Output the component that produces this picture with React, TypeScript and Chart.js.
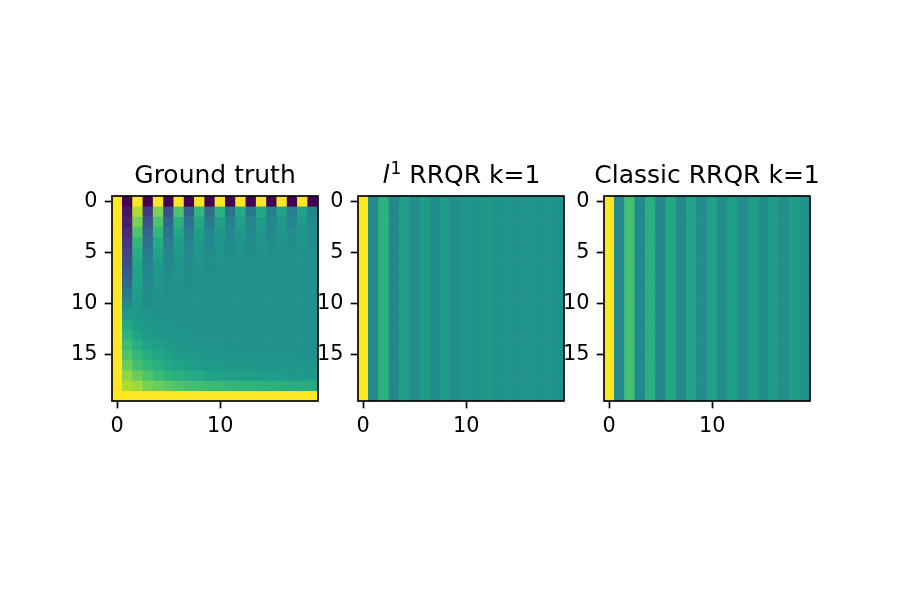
import React, { useEffect, useRef } from "react";
import { Chart, registerables } from "chart.js";

Chart.register(...registerables);

// ---------- data ----------
const xTickValues = [0, 10];
const yTickValues = [0, 5, 10, 15];

const groundTruth: number[][] = [
  [1, 0, 1, 0, 1, 0, 1, 0, 1, 0, 1, 0, 1, 0, 1, 0, 1, 0, 1, 0],
  [1, 0.05, 0.88, 0.17, 0.8, 0.24, 0.72, 0.3, 0.66, 0.35, 0.63, 0.38, 0.61, 0.4, 0.6, 0.42, 0.58, 0.43, 0.57, 0.44],
  [1, 0.08, 0.8, 0.25, 0.72, 0.32, 0.64, 0.37, 0.6, 0.41, 0.57, 0.44, 0.56, 0.45, 0.55, 0.46, 0.54, 0.46, 0.54, 0.47],
  [1, 0.12, 0.72, 0.32, 0.66, 0.38, 0.6, 0.42, 0.56, 0.45, 0.54, 0.46, 0.53, 0.47, 0.53, 0.47, 0.52, 0.48, 0.52, 0.48],
  [1, 0.16, 0.66, 0.37, 0.61, 0.42, 0.56, 0.45, 0.53, 0.47, 0.52, 0.48, 0.52, 0.48, 0.51, 0.49, 0.51, 0.49, 0.51, 0.49],
  [1, 0.2, 0.62, 0.41, 0.58, 0.45, 0.54, 0.47, 0.52, 0.48, 0.51, 0.49, 0.51, 0.49, 0.5, 0.49, 0.5, 0.5, 0.5, 0.5],
  [1, 0.24, 0.6, 0.44, 0.55, 0.47, 0.52, 0.48, 0.51, 0.49, 0.5, 0.49, 0.5, 0.5, 0.5, 0.5, 0.5, 0.5, 0.5, 0.5],
  [1, 0.29, 0.58, 0.46, 0.53, 0.48, 0.51, 0.49, 0.5, 0.49, 0.5, 0.5, 0.5, 0.5, 0.5, 0.5, 0.5, 0.5, 0.5, 0.5],
  [1, 0.34, 0.57, 0.47, 0.52, 0.49, 0.5, 0.49, 0.5, 0.5, 0.5, 0.5, 0.5, 0.5, 0.5, 0.5, 0.5, 0.5, 0.5, 0.5],
  [1, 0.4, 0.55, 0.48, 0.51, 0.49, 0.5, 0.5, 0.5, 0.5, 0.5, 0.5, 0.5, 0.5, 0.5, 0.5, 0.5, 0.5, 0.5, 0.5],
  [1, 0.47, 0.53, 0.49, 0.5, 0.5, 0.5, 0.5, 0.5, 0.5, 0.5, 0.5, 0.5, 0.5, 0.5, 0.5, 0.5, 0.5, 0.5, 0.5],
  [1, 0.54, 0.53, 0.51, 0.5, 0.5, 0.5, 0.5, 0.5, 0.5, 0.5, 0.5, 0.5, 0.5, 0.5, 0.5, 0.5, 0.5, 0.5, 0.5],
  [1, 0.6, 0.55, 0.53, 0.52, 0.51, 0.5, 0.5, 0.5, 0.5, 0.5, 0.5, 0.5, 0.5, 0.5, 0.5, 0.5, 0.5, 0.5, 0.5],
  [1, 0.64, 0.58, 0.55, 0.53, 0.52, 0.51, 0.51, 0.5, 0.5, 0.5, 0.5, 0.5, 0.5, 0.5, 0.5, 0.5, 0.5, 0.5, 0.5],
  [1, 0.68, 0.62, 0.58, 0.56, 0.54, 0.53, 0.52, 0.51, 0.51, 0.51, 0.5, 0.5, 0.5, 0.5, 0.5, 0.5, 0.5, 0.5, 0.5],
  [1, 0.72, 0.66, 0.62, 0.59, 0.57, 0.55, 0.54, 0.53, 0.52, 0.52, 0.52, 0.51, 0.51, 0.51, 0.51, 0.51, 0.51, 0.5, 0.5],
  [1, 0.77, 0.7, 0.66, 0.63, 0.6, 0.58, 0.56, 0.55, 0.54, 0.54, 0.53, 0.53, 0.53, 0.52, 0.52, 0.52, 0.52, 0.52, 0.51],
  [1, 0.83, 0.77, 0.72, 0.68, 0.65, 0.63, 0.61, 0.6, 0.58, 0.57, 0.57, 0.56, 0.56, 0.55, 0.55, 0.55, 0.54, 0.54, 0.54],
  [1, 0.88, 0.85, 0.8, 0.77, 0.74, 0.72, 0.7, 0.69, 0.68, 0.67, 0.66, 0.65, 0.65, 0.64, 0.63, 0.63, 0.62, 0.62, 0.61],
  [1, 1, 1, 1, 1, 1, 1, 1, 1, 1, 1, 1, 1, 1, 1, 1, 1, 1, 1, 1],
];

// each column of the k=1 reconstructions is constant down the rows
const l1Columns = [1, 0.47, 0.64, 0.47, 0.57, 0.48, 0.55, 0.49, 0.54, 0.49, 0.53, 0.5, 0.53, 0.5, 0.52, 0.5, 0.52, 0.5, 0.51, 0.5];
const classicColumns = [1, 0.47, 0.7, 0.47, 0.63, 0.46, 0.6, 0.47, 0.58, 0.48, 0.57, 0.48, 0.56, 0.48, 0.56, 0.49, 0.55, 0.49, 0.55, 0.5];
const rowCount = 20;

const titleGroundTruth = [{ text: "Ground truth", kind: "normal" }];
const titleL1 = [
  { text: "l", kind: "italic" },
  { text: "1", kind: "sup" },
  { text: " RRQR k=1", kind: "normal" },
];
const titleClassic = [{ text: "Classic RRQR k=1", kind: "normal" }];

// ---------- colour map (viridis) ----------
const VIRIDIS = [
  "#440154", "#471365", "#482475", "#463480", "#414487", "#3b528b", "#355f8d",
  "#2f6c8e", "#2a788e", "#25848e", "#21918c", "#1e9c89", "#22a884", "#2fb47c",
  "#44bf70", "#5ec962", "#7ad151", "#9bd93c", "#bddf26", "#dfe318", "#fde725",
];
const hexToRgb = (h: string) => [1, 3, 5].map((i) => parseInt(h.slice(i, i + 2), 16));
const VIRIDIS_RGB = VIRIDIS.map(hexToRgb);
function viridis(v: number): string {
  const t = Math.max(0, Math.min(1, v)) * (VIRIDIS_RGB.length - 1);
  const i = Math.min(Math.floor(t), VIRIDIS_RGB.length - 2);
  const f = t - i;
  const a = VIRIDIS_RGB[i];
  const b = VIRIDIS_RGB[i + 1];
  const c = a.map((x, k) => Math.round(x + (b[k] - x) * f));
  return `rgb(${c[0]},${c[1]},${c[2]})`;
}

const columnsToMatrix = (cols: number[]) =>
  Array.from({ length: rowCount }, () => cols.slice());

// ---------- layout ----------
const BOX_TOP = 196;
const BOX_BOTTOM = 401;
const BOX_W = 206;
const Y_AXIS_W = 80;
const X_AXIS_H = 50;
const CANVAS_TOP = 140;
const RIGHT_PAD = 10;
const FONT = '"DejaVu Sans", "Liberation Sans", sans-serif';

const framePlugin = {
  id: "frame",
  afterDatasetsDraw(chart: any) {
    const { ctx, chartArea } = chart;
    ctx.save();
    ctx.strokeStyle = "#000";
    ctx.lineWidth = 1.67;
    ctx.strokeRect(chartArea.left, chartArea.top, chartArea.right - chartArea.left, chartArea.bottom - chartArea.top);
    ctx.restore();
  },
};

const segTitlePlugin = {
  id: "segTitle",
  afterDraw(chart: any, _args: any, opts: any) {
    const segs = opts.segments || [];
    const { ctx, chartArea } = chart;
    const fontFor = (kind: string) =>
      kind === "italic" ? `italic 25px ${FONT}` : kind === "sup" ? `17px ${FONT}` : `25px ${FONT}`;
    ctx.save();
    ctx.fillStyle = "#000";
    ctx.textBaseline = "alphabetic";
    ctx.textAlign = "left";
    const widths = segs.map((s: any) => {
      ctx.font = fontFor(s.kind);
      return ctx.measureText(s.text).width;
    });
    const total = widths.reduce((a: number, b: number) => a + b, 0);
    let x = (chartArea.left + chartArea.right) / 2 - total / 2;
    const baseline = chartArea.top - 13;
    segs.forEach((s: any, i: number) => {
      ctx.font = fontFor(s.kind);
      ctx.fillText(s.text, x, s.kind === "sup" ? baseline - 9 : baseline);
      x += widths[i] + (s.kind === "italic" ? 1 : 0);
    });
    ctx.restore();
  },
};

function buildDatasets(matrix: number[][]) {
  return matrix.map((row, r) => ({
    label: `row ${r}`,
    data: row.map((_, c) => ({ x: c, y: [r - 0.5, r + 0.5] })),
    backgroundColor: row.map((v) => viridis(v)),
    borderWidth: 0,
    barPercentage: 1,
    categoryPercentage: 1,
    grouped: false,
  }));
}

function Panel({ left, matrix, segments }: { left: number; matrix: number[][]; segments: any[] }) {
  const ref = useRef<HTMLCanvasElement | null>(null);
  const width = Y_AXIS_W + BOX_W + RIGHT_PAD;
  const height = BOX_BOTTOM - CANVAS_TOP + X_AXIS_H;
  useEffect(() => {
    if (!ref.current) return;
    const tickFont = { family: FONT, size: 20.8 };
    const chart = new Chart(ref.current, {
      type: "bar",
      data: { datasets: buildDatasets(matrix) as any },
      plugins: [framePlugin, segTitlePlugin],
      options: {
        animation: false,
        responsive: false,
        maintainAspectRatio: false,
        events: [],
        layout: { padding: { top: BOX_TOP - CANVAS_TOP, right: RIGHT_PAD, left: 0, bottom: 0 } },
        plugins: {
          legend: { display: false },
          tooltip: { enabled: false },
          title: { display: false },
          segTitle: { segments },
        } as any,
        scales: {
          x: {
            type: "linear",
            min: -0.5,
            max: 19.5,
            offset: false,
            afterBuildTicks: (scale: any) => {
              scale.ticks = xTickValues.map((v) => ({ value: v }));
            },
            afterFit: (scale: any) => {
              scale.height = X_AXIS_H;
            },
            ticks: { color: "#000", font: tickFont, padding: 5.5, maxRotation: 0, autoSkip: false },
            grid: { drawOnChartArea: false, drawTicks: true, tickLength: 7.3, tickColor: "#000", tickWidth: 1.67, offset: false },
            border: { display: false },
          },
          y: {
            type: "linear",
            reverse: true,
            min: -0.5,
            max: 19.5,
            afterBuildTicks: (scale: any) => {
              scale.ticks = yTickValues.map((v) => ({ value: v }));
            },
            afterFit: (scale: any) => {
              scale.width = Y_AXIS_W;
            },
            ticks: { color: "#000", font: tickFont, padding: 7.3, autoSkip: false },
            grid: { drawOnChartArea: false, drawTicks: true, tickLength: 7.3, tickColor: "#000", tickWidth: 1.67 },
            border: { display: false },
          },
        },
      } as any,
    });
    return () => chart.destroy();
  }, [matrix, segments]);
  return (
    <canvas
      ref={ref}
      width={width}
      height={height}
      style={{ position: "absolute", left: left - Y_AXIS_W, top: CANVAS_TOP, width, height }}
    />
  );
}

const panels = [
  { left: 112, matrix: groundTruth, segments: titleGroundTruth },
  { left: 358, matrix: columnsToMatrix(l1Columns), segments: titleL1 },
  { left: 604, matrix: columnsToMatrix(classicColumns), segments: titleClassic },
];

export default function App() {
  return (
    <div style={{ position: "fixed", left: 0, top: 0, width: 900, height: 600, background: "#fff", overflow: "hidden" }}>
      {panels.map((p, i) => (
        <Panel key={i} left={p.left} matrix={p.matrix} segments={p.segments} />
      ))}
    </div>
  );
}
